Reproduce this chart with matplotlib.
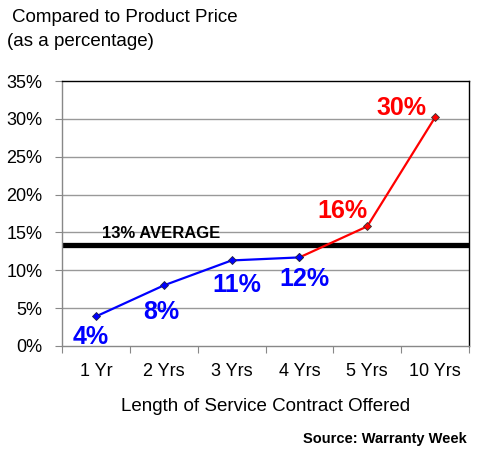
import numpy as np
import matplotlib
matplotlib.use("Agg")
from matplotlib import pyplot as plt
from matplotlib.ticker import FixedLocator, NullFormatter

plt.rcParams['font.family'] = ['Liberation Sans', 'DejaVu Sans']

categories = ['1 Yr', '2 Yrs', '3 Yrs', '4 Yrs', '5 Yrs', '10 Yrs']
values = [3.9, 8.0, 11.3, 11.7, 15.8, 30.2]
labels = ['4%', '8%', '11%', '12%', '16%', '30%']
average = 13.3
y_ticks = [0, 5, 10, 15, 20, 25, 30, 35]

# label placement (data coords)
label_pos = [(-0.07, 1.2), (0.96, 4.5), (2.08, 8.1), (3.07, 8.8), (3.64, 17.8), (4.5, 31.4)]
n_blue = 4  # first four points drawn in blue

W, H = 480, 450
fig = plt.figure(figsize=(W / 100, H / 100), dpi=100)
ax = fig.add_axes([62 / W, (H - 346) / H, (469 - 62) / W, (346 - 81) / H])

x = np.arange(len(categories))
ax.set_xlim(-0.5, len(categories) - 0.5)
ax.set_ylim(0, 35)

for yv in y_ticks[1:-1]:
    ax.axhline(yv, color='#999999', lw=1.0, zorder=1)

ax.axhline(average, color='black', lw=3.8, zorder=2)
ax.text(0.09, average + 1.5, '13% AVERAGE', fontsize=12, fontweight='bold',
        va='center', ha='left', zorder=5)

ax.plot(x[n_blue - 1:], values[n_blue - 1:], color='#FF0000', lw=1.6,
        marker='D', ms=4.5, mfc='#FF0000', mec='#333333', mew=0.6, zorder=3)
ax.plot(x[:n_blue], values[:n_blue], color='#0000FF', lw=1.6,
        marker='D', ms=4.5, mfc='#0000FF', mec='#222244', mew=0.6, zorder=4)

for i, (lab, (lx, ly)) in enumerate(zip(labels, label_pos)):
    col = '#0000FF' if i < n_blue else '#FF0000'
    ax.text(lx, ly, lab, color=col, fontsize=18, fontweight='bold',
            ha='center', va='center', zorder=6)

# x ticks: marks at category boundaries, labels at centres
ax.xaxis.set_major_locator(FixedLocator(np.arange(-0.5, len(categories), 1.0)))
ax.xaxis.set_major_formatter(NullFormatter())
ax.xaxis.set_minor_locator(FixedLocator(x))
ax.set_xticklabels(categories, minor=True)
ax.tick_params(axis='x', which='major', length=5, color='#888888', direction='out')
ax.tick_params(axis='x', which='minor', length=0, labelsize=13, pad=12)

ax.set_yticks(y_ticks)
ax.set_yticklabels([f'{v}%' for v in y_ticks])
ax.tick_params(axis='y', length=5, color='#888888', labelsize=13, pad=9)

ax.spines['left'].set_color('#888888')
ax.spines['bottom'].set_color('#888888')
ax.spines['top'].set_color('black')
ax.spines['right'].set_color('black')
for s in ax.spines.values():
    s.set_linewidth(1.0)

ax.set_xlabel('Length of Service Contract Offered', fontsize=13.5, labelpad=13)

fig.text(12 / W, 1 - 17 / H, 'Compared to Product Price', fontsize=13.5,
         ha='left', va='center')
fig.text(7 / W, 1 - 42 / H, '(as a percentage)', fontsize=13.5,
         ha='left', va='center')
fig.text(467 / W, 1 - 439 / H, 'Source: Warranty Week', fontsize=10.5,
         fontweight='bold', ha='right', va='center')

fig.savefig('out.png', dpi=100, facecolor='white')
